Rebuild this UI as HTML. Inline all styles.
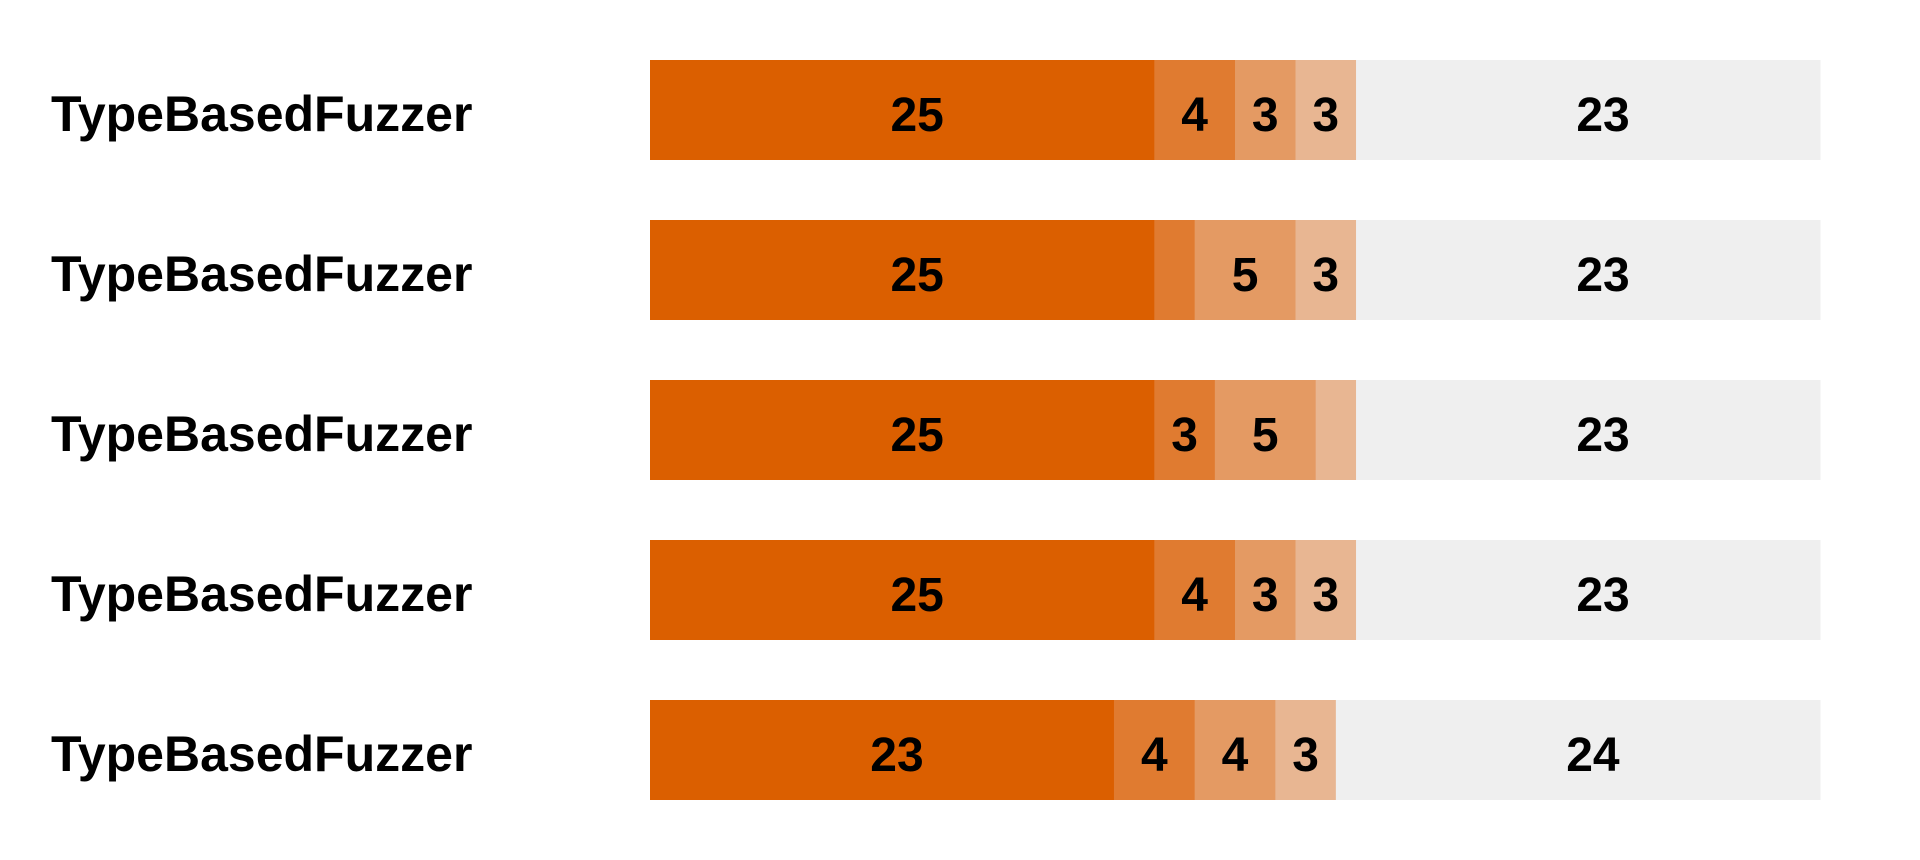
<!DOCTYPE html>
<html><head><meta charset="utf-8"><style>
html,body{margin:0;padding:0;background:#fff;}
svg{display:block;font-family:"Liberation Sans",Arial,sans-serif;font-weight:bold;}
</style></head><body>
<svg id="chart" width="1920" height="860" viewBox="0 0 1920 860"></svg>
<script>
const categories = ["TypeBasedFuzzer","TypeBasedFuzzer","TypeBasedFuzzer","TypeBasedFuzzer","TypeBasedFuzzer"];
const seriesA = [25,25,25,25,23];
const seriesB = [4,2,3,4,4];
const seriesC = [3,5,5,3,4];
const seriesD = [3,3,2,3,3];
const seriesE = [23,23,23,23,24];
const colors = ["#db5f00","#e07b30","#e49a63","#e8b692","#efefef"];
const NS="http://www.w3.org/2000/svg";
const svg=document.getElementById('chart');
const x0=650,x1=1820,rowTop=60,rowStep=160,barH=100;
const series=[seriesA,seriesB,seriesC,seriesD,seriesE];
function el(t,a){const e=document.createElementNS(NS,t);for(const k in a)e.setAttribute(k,a[k]);svg.appendChild(e);return e;}
categories.forEach((cat,i)=>{
  const total=series.reduce((s,a)=>s+a[i],0);
  const sx=v=>v/total*(x1-x0);
  const y=rowTop+i*rowStep, cy=y+barH/2;
  const lab=el('text',{x:51,y:cy+21,'font-size':50,fill:'#000'});
  lab.textContent=cat;
  
  
  let acc=0;
  series.forEach((s,j)=>{
    const v=s[i];
    const r=el('rect',{x:x0+sx(acc),y:y,width:sx(v)+0.5,height:barH,fill:colors[j]});
    
    
    if(v>=3){
      const off=(String(v).length-1)*15;
      const t=el('text',{x:x0+sx(acc+v/2)+off,y:cy+21,'font-size':48,'text-anchor':'middle',fill:'#000'});
      t.textContent=v;
      
      
    }
    acc+=v;
  });
});
</script>
</body></html>
